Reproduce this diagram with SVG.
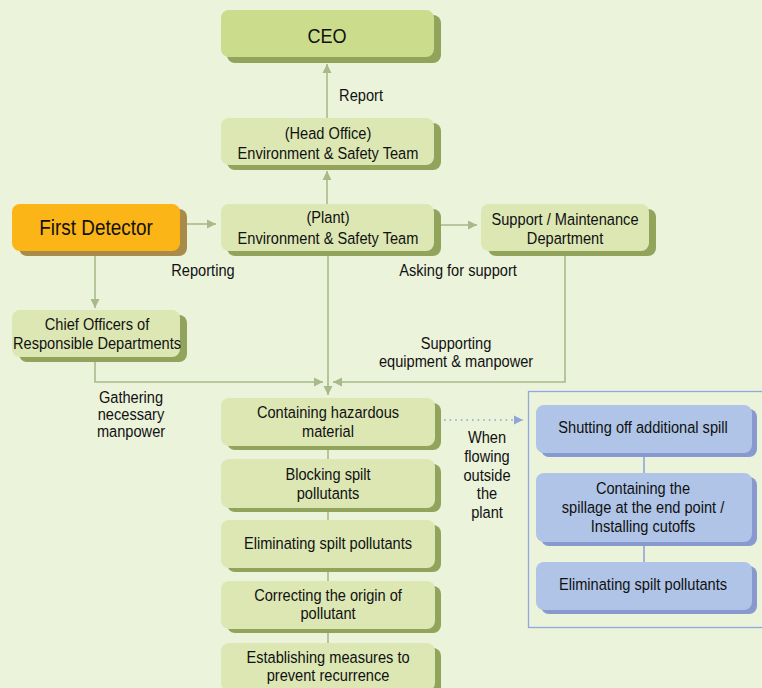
<svg xmlns="http://www.w3.org/2000/svg" width="762" height="688" viewBox="0 0 762 688">
  <style>
    text { font-family: "Liberation Sans", Arial, sans-serif; font-size: 17px; fill: #111; text-anchor: middle;
           transform-box: fill-box; transform-origin: center; transform: scaleX(0.86); }
    .face { fill: #DCE7B4; }
    .ceo { fill: #CBDC8C; }
    .shadow { fill: #92A35C; }
    .oface { fill: #FBB516; }
    .oshadow { fill: #A88B4A; }
    .bface { fill: #AFC4E6; }
    .bshadow { fill: #8799CF; }
    .link { stroke: #A9B98A; stroke-width: 1.6; fill: none; }
    .dotted { stroke: #8FA5D8; stroke-width: 1.6; fill: none; stroke-dasharray: 1.6 4; }
    .big { font-size: 21px; }
  </style>
  <defs>
    <marker id="arrow" markerUnits="userSpaceOnUse" markerWidth="10" markerHeight="10" refX="9" refY="5" orient="auto">
      <path d="M0,0.5 L9,5 L0,9.5 z" fill="#A9B98A"/>
    </marker>
    <marker id="arrowBlue" markerUnits="userSpaceOnUse" markerWidth="10" markerHeight="10" refX="9" refY="5" orient="auto">
      <path d="M0,0.5 L9,5 L0,9.5 z" fill="#8FA5D8"/>
    </marker>
  </defs>

  <rect width="762" height="688" fill="#EBF3DB"/>

  <!-- connectors -->
  <g id="connectors">
    <line class="link" x1="327" y1="118" x2="327" y2="64" marker-end="url(#arrow)"/>
    <line class="link" x1="327" y1="204" x2="327" y2="171" marker-end="url(#arrow)"/>
    <line class="link" x1="187" y1="224" x2="216" y2="224" marker-end="url(#arrow)"/>
    <line class="link" x1="441" y1="225" x2="477" y2="225" marker-end="url(#arrow)"/>
    <line class="link" x1="95" y1="256" x2="95" y2="308" marker-end="url(#arrow)"/>
    <polyline class="link" points="95,358 95,382 323,382" marker-end="url(#arrow)"/>
    <polyline class="link" points="565,256 565,382 333,382" marker-end="url(#arrow)"/>
    <line class="link" x1="328" y1="256" x2="328" y2="395" marker-end="url(#arrow)"/>
    <line class="link" x1="328" y1="450" x2="328" y2="688"/>
    <line class="dotted" x1="444" y1="420" x2="523" y2="420" marker-end="url(#arrowBlue)"/>
    <line class="link" x1="644" y1="457" x2="644" y2="562" style="stroke:#8FA5D8"/>
  </g>

  <!-- top chain -->
  <g id="ceo">
    <rect class="shadow" x="227" y="15" width="214" height="48" rx="8"/>
    <rect class="ceo" x="221" y="10" width="213" height="47" rx="8"/>
    <text class="big" x="327" y="43">CEO</text>
  </g>
  <text x="361" y="101">Report</text>

  <g id="head-office">
    <rect class="shadow" x="227" y="123" width="214" height="47" rx="8"/>
    <rect class="face" x="221" y="118" width="213" height="47" rx="8"/>
    <text x="328" y="139">(Head Office)</text>
    <text x="328" y="159">Environment &amp; Safety Team</text>
  </g>

  <g id="plant">
    <rect class="shadow" x="227" y="209" width="214" height="47" rx="8"/>
    <rect class="face" x="221" y="204" width="213" height="47" rx="8"/>
    <text x="328" y="223">(Plant)</text>
    <text x="328" y="244">Environment &amp; Safety Team</text>
  </g>

  <g id="first-detector">
    <rect class="oshadow" x="19" y="209" width="168" height="47" rx="8"/>
    <rect class="oface" x="12" y="204" width="168" height="47" rx="8"/>
    <text x="96" y="235" style="font-size:22px">First Detector</text>
  </g>

  <g id="support">
    <rect class="shadow" x="488" y="209" width="168" height="47" rx="8"/>
    <rect class="face" x="481" y="204" width="168" height="47" rx="8"/>
    <text x="565" y="225">Support / Maintenance</text>
    <text x="565" y="244">Department</text>
  </g>

  <text x="203" y="276">Reporting</text>
  <text x="458" y="276">Asking for support</text>

  <g id="chief-officers">
    <rect class="shadow" x="19" y="315" width="168" height="47" rx="8"/>
    <rect class="face" x="12" y="310" width="168" height="47" rx="8"/>
    <text x="97" y="330">Chief Officers of</text>
    <text x="97" y="349">Responsible Departments</text>
  </g>

  <text x="456" y="349">Supporting</text>
  <text x="456" y="367">equipment &amp; manpower</text>

  <text x="131" y="403">Gathering</text>
  <text x="131" y="420">necessary</text>
  <text x="131" y="437">manpower</text>

  <!-- response steps inside the plant -->
  <g id="containing">
    <rect class="shadow" x="227" y="403" width="214" height="47" rx="8"/>
    <rect class="face" x="221" y="398" width="214" height="48" rx="8"/>
    <text x="328" y="418">Containing hazardous</text>
    <text x="328" y="437">material</text>
  </g>
  <g id="blocking">
    <rect class="shadow" x="227" y="464" width="214" height="48" rx="8"/>
    <rect class="face" x="221" y="459" width="214" height="49" rx="8"/>
    <text x="328" y="480">Blocking spilt</text>
    <text x="328" y="499">pollutants</text>
  </g>
  <g id="eliminating">
    <rect class="shadow" x="227" y="525" width="214" height="47" rx="8"/>
    <rect class="face" x="221" y="520" width="214" height="48" rx="8"/>
    <text x="328" y="549">Eliminating spilt pollutants</text>
  </g>
  <g id="correcting">
    <rect class="shadow" x="227" y="586" width="214" height="47" rx="8"/>
    <rect class="face" x="221" y="581" width="214" height="48" rx="8"/>
    <text x="328" y="601">Correcting the origin of</text>
    <text x="328" y="619">pollutant</text>
  </g>
  <g id="establishing">
    <rect class="shadow" x="227" y="648" width="214" height="48" rx="8"/>
    <rect class="face" x="221" y="643" width="214" height="48" rx="8"/>
    <text x="328" y="663">Establishing measures to</text>
    <text x="328" y="681">prevent recurrence</text>
  </g>

  <text x="487" y="443">When</text>
  <text x="487" y="462">flowing</text>
  <text x="487" y="481">outside</text>
  <text x="487" y="499">the</text>
  <text x="487" y="518">plant</text>

  <!-- response steps outside the plant -->
  <rect x="528.5" y="391.5" width="245" height="236" fill="none" stroke="#93A8DA" stroke-width="1.3"/>
  <g id="shutting-off">
    <rect class="bshadow" x="541" y="409" width="216" height="48" rx="8"/>
    <rect class="bface" x="536" y="405" width="216" height="48" rx="8"/>
    <text x="643" y="433">Shutting off additional spill</text>
  </g>
  <g id="end-point">
    <rect class="bshadow" x="541" y="477" width="216" height="69" rx="8"/>
    <rect class="bface" x="536" y="473" width="216" height="69" rx="8"/>
    <text x="643" y="494">Containing the</text>
    <text x="643" y="513">spillage at the end point /</text>
    <text x="643" y="532">Installing cutoffs</text>
  </g>
  <g id="eliminating-outside">
    <rect class="bshadow" x="541" y="566" width="216" height="48" rx="8"/>
    <rect class="bface" x="536" y="562" width="216" height="48" rx="8"/>
    <text x="643" y="590">Eliminating spilt pollutants</text>
  </g>
</svg>
